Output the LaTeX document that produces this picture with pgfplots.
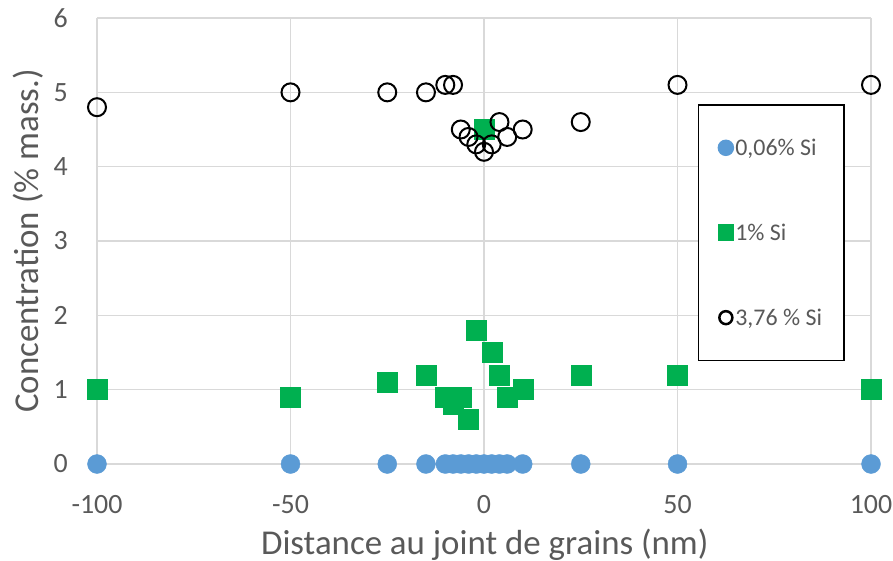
\documentclass[border=0pt]{standalone}
\usepackage{fontspec}
\setmainfont{Carlito}
\usepackage{pgfplots}
\pgfplotsset{compat=1.18}
\definecolor{txtgray}{HTML}{595959}
\definecolor{gridgray}{HTML}{D9D9D9}
\definecolor{sblue}{HTML}{5B9BD5}
\definecolor{sgreen}{HTML}{00B050}
\begin{document}
\begin{tikzpicture}
\begin{axis}[
  name=ax,
  scale only axis,
  width=774bp, height=446bp,
  xmin=-100, xmax=100, ymin=0, ymax=6,
  xtick={-100,-50,0,50,100},
  ytick={0,1,2,3,4,5,6},
  grid=major,
  major grid style={draw=gridgray, line width=1.3bp},
  axis line style={draw=none},
  tick style={draw=none},
  /pgf/number format/assume math mode=true,
  ticklabel style={font=\fontsize{28}{30}\selectfont, text=txtgray},
  xticklabel style={anchor=base, inner sep=0pt, yshift=-49bp},
  yticklabel style={anchor=east, inner sep=0pt, xshift=-29bp},
  xlabel={Distance au joint de grains (nm)},
  ylabel={Concentration (\% mass.)},
  label style={font=\fontsize{35}{38}\selectfont, text=txtgray, inner sep=0pt},
  xlabel style={at={(rel axis cs:0.501,-0.2018)}, anchor=base},
  ylabel style={at={(rel axis cs:-0.1085,0.5)}, anchor=north},
  clip=false,
  legend style={draw=black, line width=1.5bp, at={(rel axis cs:0.776,0.807)}, anchor=north west,
    font=\fontsize{24}{26}\selectfont, text=txtgray, row sep=63bp, inner ysep=32bp, inner xsep=20bp,
    legend cell align=left},
  legend image code/.code={\draw[mark repeat=2,mark phase=2,#1] plot coordinates {(0bp,0bp) (8bp,0bp) (16bp,0bp)};},
]
\addplot[only marks, mark=*, mark size=9.5bp, draw=sblue, fill=sblue, mark options={draw=sblue, fill=sblue},
  legend image post style={mark size=7.5bp}] coordinates {
(-100,0) (-50,0) (-25,0) (-15,0) (-10,0) (-8,0) (-6,0) (-4,0) (-2,0) (0,0) (2,0) (4,0) (6,0) (10,0) (25,0) (50,0) (100,0)
};
\addlegendentry{0,06\% Si}
\addplot[only marks, mark=square*, mark size=10bp, mark options={draw=sgreen, fill=sgreen},
  legend image post style={mark size=7.5bp}] coordinates {
(-100,1.0) (-50,0.9) (-25,1.1) (-15,1.2) (-10,0.9) (-8,0.8) (-6,0.9) (-4,0.6) (-2,1.8) (0,4.5) (2,1.5) (4,1.2) (6,0.9) (10,1.0) (25,1.2) (50,1.2) (100,1.0)
};
\addlegendentry{1\% Si}
\addplot[only marks, mark=o, mark size=9bp, mark options={draw=black, line width=2bp},
  legend image post style={mark size=6.5bp, mark options={draw=black, line width=2.5bp}}] coordinates {
(-100,4.8) (-50,5.0) (-25,5.0) (-15,5.0) (-10,5.1) (-8,5.1) (-6,4.5) (-4,4.4) (-2,4.3) (0,4.2) (2,4.3) (4,4.6) (6,4.4) (10,4.5) (25,4.6) (50,5.1) (100,5.1)
};
\addlegendentry{3,76 \% Si}
\end{axis}
\pgfresetboundingbox
\path[use as bounding box] ([xshift=-97bp,yshift=-97bp]ax.south west) rectangle ([xshift=796bp,yshift=464bp]ax.south west);
\end{tikzpicture}
\end{document}
